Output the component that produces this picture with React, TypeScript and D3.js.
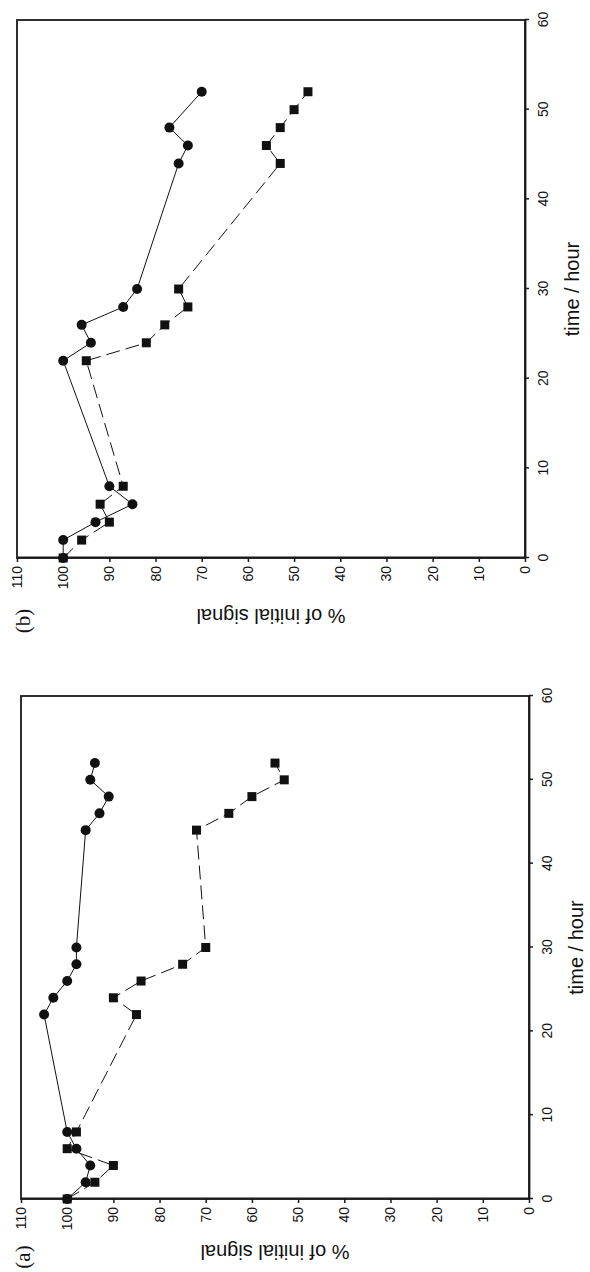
import React, { useEffect, useRef } from "react";
import * as d3 from "d3";

const timeTicks = [0, 10, 20, 30, 40, 50, 60];
const signalTicks = [0, 10, 20, 30, 40, 50, 60, 70, 80, 90, 100, 110];

const panelATimes = [0, 2, 4, 6, 8, 22, 24, 26, 28, 30, 44, 46, 48, 50, 52];
const panelACircles = [100, 96, 95, 98, 100, 105, 103, 100, 98, 98, 96, 93, 91, 95, 94];
const panelASquares = [100, 94, 90, 100, 98, 85, 90, 84, 75, 70, 72, 65, 60, 53, 55];

const panelBCircleTimes = [0, 2, 4, 6, 8, 22, 24, 26, 28, 30, 44, 46, 48, 52];
const panelBCircles = [100, 100, 93, 85, 90, 100, 94, 96, 87, 84, 75, 73, 77, 70];
const panelBSquareTimes = [0, 2, 4, 6, 8, 22, 24, 26, 28, 30, 44, 46, 48, 50, 52];
const panelBSquares = [100, 96, 90, 92, 87, 95, 82, 78, 73, 75, 53, 56, 53, 50, 47];

const SANS = "'Liberation Sans', Arial, Helvetica, sans-serif";
const SERIF = "'Liberation Serif', 'Times New Roman', serif";

interface Pt { t: number; v: number }
interface PanelSpec {
  label: string;
  ox: number;
  oy: number;
  timeLen: number;
  valueLen: number;
  circles: Pt[];
  squares: Pt[];
  titleOffset: number;
  labelU: number;
  labelW: number;
}

const zip = (ts: number[], vs: number[]): Pt[] => ts.map((t, i) => ({ t, v: vs[i] }));

function drawPanel(svg: d3.Selection<SVGSVGElement, unknown, null, undefined>, s: PanelSpec) {
  const x = d3.scaleLinear().domain([0, 60]).range([0, s.timeLen]);
  const y = d3.scaleLinear().domain([0, 110]).range([s.valueLen, 0]);
  const g = svg.append("g").attr("transform", `translate(${s.ox},${s.oy}) rotate(-90)`);

  g.append("rect")
    .attr("x", 0).attr("y", 0)
    .attr("width", s.timeLen).attr("height", s.valueLen)
    .attr("fill", "none").attr("stroke", "#1a1a1a").attr("stroke-width", 1.8);

  const xa = g.append("g").attr("transform", `translate(0,${s.valueLen})`)
    .call(d3.axisBottom(x).tickValues(timeTicks).tickSize(4).tickPadding(9).tickSizeOuter(0));
  const ya = g.append("g")
    .call(d3.axisLeft(y).tickValues(signalTicks).tickSize(4).tickPadding(4).tickSizeOuter(0));
  [xa, ya].forEach((a) => {
    a.attr("font-family", SANS).attr("font-size", 14);
    a.select(".domain").attr("stroke", "#1a1a1a").attr("stroke-width", 1.8);
    a.selectAll(".tick line").attr("stroke", "#1a1a1a").attr("stroke-width", 1.5);
    a.selectAll(".tick text").attr("fill", "#111");
  });

  const line = d3.line<Pt>().x((d) => x(d.t)).y((d) => y(d.v));

  g.append("path").datum(s.squares).attr("d", line)
    .attr("fill", "none").attr("stroke", "#111").attr("stroke-width", 1)
    .attr("stroke-dasharray", "14,6");
  g.append("path").datum(s.circles).attr("d", line)
    .attr("fill", "none").attr("stroke", "#111").attr("stroke-width", 1);

  const sq = 9;
  g.selectAll(".sq").data(s.squares).enter().append("rect")
    .attr("x", (d) => x(d.t) - sq / 2).attr("y", (d) => y(d.v) - sq / 2)
    .attr("width", sq).attr("height", sq).attr("fill", "#111");
  g.selectAll(".ci").data(s.circles).enter().append("circle")
    .attr("cx", (d) => x(d.t)).attr("cy", (d) => y(d.v)).attr("r", 5).attr("fill", "#111");

  g.append("text")
    .attr("x", s.timeLen / 2).attr("y", s.valueLen + 47)
    .attr("text-anchor", "middle").attr("dominant-baseline", "central")
    .attr("font-family", SANS).attr("font-size", 20).attr("fill", "#111")
    .text("time / hour");

  g.append("text")
    .attr("transform", `translate(${-s.titleOffset},${s.valueLen / 2}) rotate(-90)`)
    .attr("text-anchor", "middle").attr("dominant-baseline", "central")
    .attr("font-family", SANS).attr("font-size", 20).attr("fill", "#111")
    .text("% of initial signal");

  g.append("text")
    .attr("x", s.labelU).attr("y", s.labelW)
    .attr("text-anchor", "middle").attr("dominant-baseline", "central")
    .attr("font-family", SERIF).attr("font-size", 21).attr("fill", "#111")
    .text(s.label);
}

export default function App() {
  const ref = useRef<SVGSVGElement | null>(null);
  useEffect(() => {
    if (!ref.current) return;
    const svg = d3.select(ref.current);
    svg.selectAll("*").remove();
    drawPanel(svg, {
      label: "(b)", ox: 17, oy: 558, timeLen: 538, valueLen: 508,
      circles: zip(panelBCircleTimes, panelBCircles),
      squares: zip(panelBSquareTimes, panelBSquares),
      titleOffset: 58, labelU: -63, labelW: 6,
    });
    drawPanel(svg, {
      label: "(a)", ox: 21, oy: 1199, timeLen: 503, valueLen: 508,
      circles: zip(panelATimes, panelACircles),
      squares: zip(panelATimes, panelASquares),
      titleOffset: 53, labelU: -58, labelW: 2,
    });
  }, []);
  return (
    <svg
      ref={ref}
      width={590}
      height={1272}
      style={{ position: "absolute", left: 0, top: 0, background: "#fff" }}
    />
  );
}
